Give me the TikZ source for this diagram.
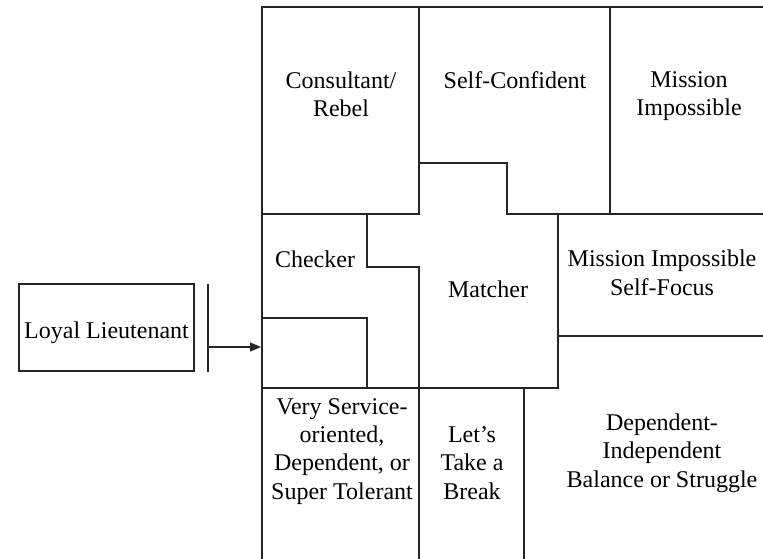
\documentclass[tikz,border=0pt]{standalone}
\usepackage{fontspec}
\setmainfont{Liberation Serif}
\usetikzlibrary{arrows.meta}
\tikzset{
  wall/.style={line width=1.2pt, draw=black!85, line cap=rect},
  lbl/.style={align=center, inner sep=0pt, anchor=base, font=\fontsize{24}{28.3}\selectfont},
  llbox/.style={draw=black!85, line width=1.2pt, minimum width=175pt, minimum height=87pt, inner sep=0pt, text height=23pt, text depth=1pt, font=\fontsize{24}{28.3}\selectfont},
  arrowline/.style={line width=1.2pt, draw=black!85, -{Triangle[length=11pt,width=9pt]}}
}
\begin{document}
\begin{tikzpicture}[x=1pt,y=-1pt]
\useasboundingbox (0,0) rectangle (763,559);
% grid walls
\draw[wall] (262,559) -- (262,7) -- (763,7);
\draw[wall] (419,7) -- (419,214);
\draw[wall] (610,7) -- (610,214);
\draw[wall] (262,214) -- (419,214);
\draw[wall] (419,163) -- (507,163) -- (507,214) -- (763,214);
\draw[wall] (367,214) -- (367,267) -- (419,267) -- (419,388);
\draw[wall] (262,318) -- (367,318) -- (367,388);
\draw[wall] (558,214) -- (558,388);
\draw[wall] (262,388) -- (558,388);
\draw[wall] (558,336) -- (763,336);
\draw[wall] (419,388) -- (419,559);
\draw[wall] (524,388) -- (524,559);
% labels (anchor = baseline of the last line)
\node[lbl] (consultant) at (341,117) {Consultant/\\Rebel};
\node[lbl] (selfconf) at (515,89) {Self-Confident};
\node[lbl] (mission) at (689,116) {Mission\\Impossible};
\node[lbl] (checker) at (315,267) {Checker};
\node[lbl] (matcher) at (488,297) {Matcher};
\node[lbl] (misself) at (662,295) {Mission Impossible\\Self-Focus};
\node[lbl] (service) at (342,499) {Very Service-\\oriented,\\Dependent, or\\Super Tolerant};
\node[lbl] (break) at (472,499) {Let’s\\Take a\\Break};
\node[lbl] (balance) at (662,487) {Dependent-\\Independent\\Balance or Struggle};
% loyal lieutenant
\node[llbox] (loyal) at (106.5,327.5) {Loyal Lieutenant};
\coordinate (bartop) at (208,284);
\coordinate (barbot) at (208,372);
\draw[wall, line cap=butt] (bartop) -- (barbot);
\coordinate (barmid) at (208,347);
\coordinate (entry) at (261,347);
\draw[arrowline] (barmid) -- (entry);
\end{tikzpicture}
\end{document}
